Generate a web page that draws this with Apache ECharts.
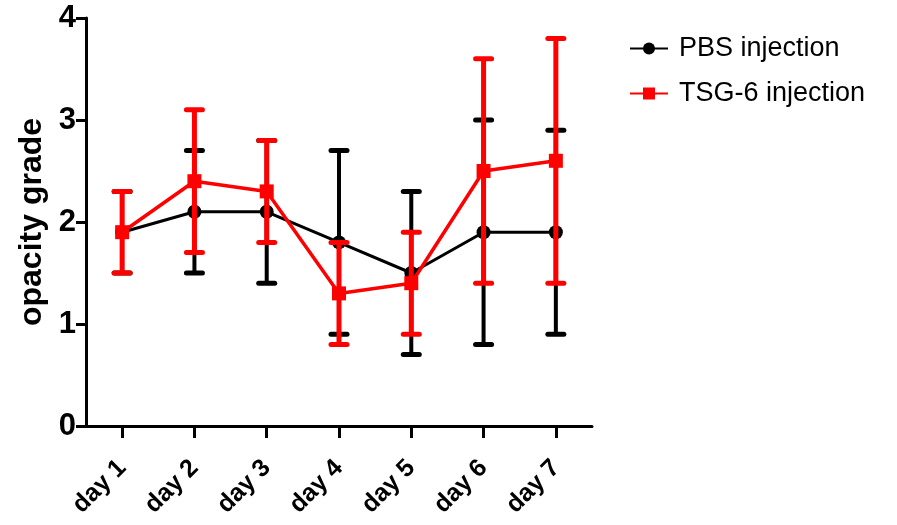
<!DOCTYPE html>
<html>
<head>
<meta charset="utf-8">
<script src="https://cdn.jsdelivr.net/npm/echarts@6/dist/echarts.min.js"></script>
<style>
  html, body { margin: 0; padding: 0; background: #fff; }
  #chart { width: 897px; height: 525px; }
</style>
</head>
<body>
<div id="chart"></div>
<script>
// Corneal opacity grade per day, mean with error range
const days = ['day 1', 'day 2', 'day 3', 'day 4', 'day 5', 'day 6', 'day 7'];
const yTicks = [0, 1, 2, 3, 4];

const pbsMean = [1.9, 2.1, 2.1, 1.8, 1.5, 1.9, 1.9];
const pbsLow  = [1.5, 1.5, 1.4, 0.9, 0.7, 0.8, 0.9];
const pbsHigh = [2.3, 2.7, 2.8, 2.7, 2.3, 3.0, 2.9];

const tsgMean = [1.9, 2.4, 2.3, 1.3, 1.4, 2.5, 2.6];
const tsgLow  = [1.5, 1.7, 1.8, 0.8, 0.9, 1.4, 1.4];
const tsgHigh = [2.3, 3.1, 2.8, 1.8, 1.9, 3.6, 3.8];

const BLACK = '#000000';
const RED = '#ff0000';

function errorData(low, high) {
  return days.map((d, i) => [i, low[i], high[i]]);
}

// whisker with rounded caps drawn through the axis scales
function errorBarSeries(name, low, high, color, stemWidth, z) {
  return {
    type: 'custom',
    name: name + ' error',
    z: z,
    silent: true,
    data: errorData(low, high),
    encode: { x: 0, y: [1, 2] },
    renderItem: function (params, api) {
      const lo = api.coord([api.value(0), api.value(1)]);
      const hi = api.coord([api.value(0), api.value(2)]);
      const capHalf = 8;
      const capStyle = { stroke: color, lineWidth: 5, lineCap: 'round' };
      return {
        type: 'group',
        children: [
          { type: 'line', shape: { x1: lo[0], y1: lo[1], x2: hi[0], y2: hi[1] },
            style: { stroke: color, lineWidth: stemWidth } },
          { type: 'line', shape: { x1: hi[0] - capHalf, y1: hi[1], x2: hi[0] + capHalf, y2: hi[1] },
            style: capStyle },
          { type: 'line', shape: { x1: lo[0] - capHalf, y1: lo[1], x2: lo[0] + capHalf, y2: lo[1] },
            style: capStyle }
        ]
      };
    }
  };
}

const chart = echarts.init(document.getElementById('chart'), null, { renderer: 'canvas' });

chart.setOption({
  animation: false,
  backgroundColor: '#ffffff',
  grid: { left: 86, right: 305, top: 18, bottom: 99, containLabel: false },
  legend: {
    orient: 'vertical',
    left: 624,
    top: 30,
    itemWidth: 38,
    itemHeight: 15,
    itemGap: 18,
    data: ['PBS injection', 'TSG-6 injection'],
    textStyle: { fontFamily: 'Liberation Sans, Arial, sans-serif', fontSize: 27, color: '#000', padding: [0, 0, 0, 6] }
  },
  xAxis: {
    type: 'category',
    data: days,
    boundaryGap: true,
    axisLine: { show: true, lineStyle: { color: BLACK, width: 3 } },
    axisTick: { show: true, alignWithLabel: true, inside: false, length: 12, lineStyle: { color: BLACK, width: 3 } },
    axisLabel: {
      rotate: 45,
      margin: 38,
      color: '#000',
      fontFamily: 'Liberation Sans, Arial, sans-serif',
      fontWeight: 'bold',
      fontSize: 25
    },
    splitLine: { show: false }
  },
  yAxis: {
    type: 'value',
    min: yTicks[0],
    max: yTicks[yTicks.length - 1],
    interval: 1,
    name: 'opacity grade',
    nameLocation: 'middle',
    nameGap: 29,
    nameTextStyle: {
      color: '#000',
      fontFamily: 'Liberation Sans, Arial, sans-serif',
      fontWeight: 'bold',
      fontSize: 32
    },
    axisLine: { show: true, lineStyle: { color: BLACK, width: 3 } },
    axisTick: { show: true, inside: false, length: 10, lineStyle: { color: BLACK, width: 3 } },
    axisLabel: {
      margin: 10,
      color: '#000',
      fontFamily: 'Liberation Sans Narrow, Arial Narrow, Liberation Sans, sans-serif',
      fontWeight: 'bold',
      fontSize: 31
    },
    splitLine: { show: false }
  },
  series: [
    errorBarSeries('PBS injection', pbsLow, pbsHigh, BLACK, 4, 2),
    {
      name: 'PBS injection',
      type: 'line',
      z: 3,
      data: pbsMean,
      symbol: 'circle',
      symbolSize: 14,
      itemStyle: { color: BLACK },
      lineStyle: { color: BLACK, width: 3 }
    },
    errorBarSeries('TSG-6 injection', tsgLow, tsgHigh, RED, 5, 4),
    {
      name: 'TSG-6 injection',
      type: 'line',
      z: 5,
      data: tsgMean,
      symbol: 'rect',
      symbolSize: 14,
      itemStyle: { color: RED },
      lineStyle: { color: RED, width: 3.5 }
    }
  ]
});
</script>
</body>
</html>
